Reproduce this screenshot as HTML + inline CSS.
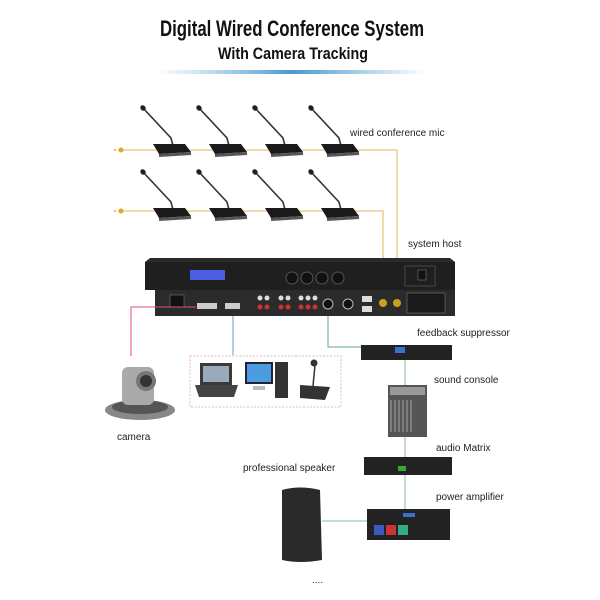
<!DOCTYPE html>
<html><head><meta charset="utf-8"><style>
html,body{margin:0;padding:0;background:#fff}
svg{display:block;font-family:"Liberation Sans",sans-serif}
</style></head><body>
<svg width="600" height="600" viewBox="0 0 600 600" xmlns="http://www.w3.org/2000/svg">
<defs>
<linearGradient id="tl" x1="0" x2="1"><stop offset="0" stop-color="#5aa6d6" stop-opacity="0"/><stop offset="0.5" stop-color="#4a9ad0"/><stop offset="1" stop-color="#5aa6d6" stop-opacity="0"/></linearGradient>
<g id="mic">
<path d="M0 0 L28 30 L30 38" stroke="#333" stroke-width="1.6" fill="none"/>
<ellipse cx="0" cy="0" rx="2.5" ry="3" fill="#222" transform="rotate(-40)"/>
<path d="M10 36 L42 36 L48 44 L16 46 Z" fill="#1a1a1a"/>
<path d="M16 46 L48 44 L48 47 L16 49 Z" fill="#555"/>
</g>
</defs>
<text x="292" y="36" font-size="22" font-weight="bold" text-anchor="middle" fill="#111" textLength="264" lengthAdjust="spacingAndGlyphs">Digital Wired Conference System</text>
<text x="293" y="59" font-size="17" font-weight="bold" text-anchor="middle" fill="#111" textLength="150" lengthAdjust="spacingAndGlyphs">With Camera Tracking</text>
<rect x="158" y="70" width="270" height="4" fill="url(#tl)"/>

<g stroke="#e0b45a" stroke-width="1" fill="none">
<path d="M118 150 H397 V285"/>
<path d="M118 211 H383 V285"/>
</g>
<circle cx="121" cy="150" r="2.5" fill="#e0a830"/><circle cx="115" cy="150" r="1" fill="#e0a830"/>
<circle cx="121" cy="211" r="2.5" fill="#e0a830"/><circle cx="115" cy="211" r="1" fill="#e0a830"/>
<use href="#mic" x="143" y="108"/><use href="#mic" x="199" y="108"/><use href="#mic" x="255" y="108"/><use href="#mic" x="311" y="108"/>
<use href="#mic" x="143" y="172"/><use href="#mic" x="199" y="172"/><use href="#mic" x="255" y="172"/><use href="#mic" x="311" y="172"/>
<text x="350" y="136" font-size="10" fill="#222">wired conference mic</text>
<text x="408" y="247" font-size="10" fill="#222">system host</text>

<path d="M150 258 L450 258 L455 262 V290 H145 V262 Z" fill="#2a2a2a"/>
<rect x="145" y="262" width="310" height="28" fill="#1f1f1f"/>
<rect x="190" y="270" width="35" height="10" fill="#4a5fe0"/>
<g fill="#111" stroke="#666" stroke-width="0.8">
<circle cx="292" cy="278" r="6"/><circle cx="307" cy="278" r="6"/><circle cx="322" cy="278" r="6"/><circle cx="338" cy="278" r="6"/></g>
<rect x="405" y="266" width="30" height="20" fill="none" stroke="#777" stroke-width="0.5"/>
<rect x="418" y="270" width="8" height="10" fill="#111" stroke="#888" stroke-width="0.5"/>
<rect x="155" y="290" width="300" height="26" fill="#2b2b2b"/>
<rect x="170" y="295" width="14" height="12" fill="#111" stroke="#888" stroke-width="0.5"/>
<rect x="197" y="303" width="20" height="6" fill="#ccc"/>
<rect x="225" y="303" width="15" height="6" fill="#ccc"/>
<g fill="#ddd"><circle cx="260" cy="298" r="2.5"/><circle cx="267" cy="298" r="2.5"/><circle cx="281" cy="298" r="2.5"/><circle cx="288" cy="298" r="2.5"/><circle cx="301" cy="298" r="2.5"/><circle cx="308" cy="298" r="2.5"/><circle cx="315" cy="298" r="2.5"/></g>
<g fill="#c33"><circle cx="260" cy="307" r="2.5"/><circle cx="267" cy="307" r="2.5"/><circle cx="281" cy="307" r="2.5"/><circle cx="288" cy="307" r="2.5"/><circle cx="301" cy="307" r="2.5"/><circle cx="308" cy="307" r="2.5"/><circle cx="315" cy="307" r="2.5"/></g>
<circle cx="328" cy="304" r="5" fill="#111" stroke="#bbb"/><circle cx="348" cy="304" r="5" fill="#111" stroke="#bbb"/>
<rect x="362" y="296" width="10" height="6" fill="#ddd"/><rect x="362" y="306" width="10" height="6" fill="#ddd"/>
<circle cx="383" cy="303" r="4" fill="#c8a020"/><circle cx="397" cy="303" r="4" fill="#c8a020"/>
<rect x="407" y="293" width="38" height="20" fill="#1a1a1a" stroke="#888" stroke-width="0.5"/>

<path d="M196 307 H131 V356" stroke="#e05070" fill="none"/>
<path d="M233 316 V355" stroke="#5b9fd0" fill="none"/>
<path d="M328 316 V347 H362" stroke="#5cae7c" fill="none"/>
<path d="M405 360 V385 M405 437 V457 M405 475 V509 M322 521 H367" stroke="#8dbb9c" fill="none"/>

<text x="417" y="336" font-size="10" fill="#222">feedback suppressor</text>
<rect x="361" y="345" width="91" height="15" fill="#222"/><rect x="395" y="347" width="10" height="6" fill="#3a6fd0"/>
<text x="434" y="383" font-size="10" fill="#222">sound console</text>
<rect x="388" y="385" width="39" height="52" fill="#555"/>
<g stroke="#ddd" stroke-width="0.6"><path d="M391 400 V432 M395 400 V432 M399 400 V432 M403 400 V432 M407 400 V432 M411 400 V432"/></g>
<rect x="390" y="387" width="35" height="8" fill="#999"/>
<text x="436" y="451" font-size="10" fill="#222">audio Matrix</text>
<rect x="364" y="457" width="88" height="18" fill="#222"/><rect x="398" y="466" width="8" height="5" fill="#3a3"/>
<text x="243" y="471" font-size="10" fill="#222">professional speaker</text>
<text x="436" y="500" font-size="10" fill="#222">power amplifier</text>
<rect x="367" y="509" width="83" height="31" fill="#222"/>
<rect x="374" y="525" width="10" height="10" fill="#3a5bc0"/><rect x="386" y="525" width="10" height="10" fill="#c33"/><rect x="398" y="525" width="10" height="10" fill="#3a8"/>
<rect x="403" y="513" width="12" height="4" fill="#3a6fd0"/>
<path d="M282 490 Q300 485 320 490 L322 560 Q300 564 282 560 Z" fill="#2a2a2a"/>

<rect x="190" y="356" width="151" height="51" fill="none" stroke="#e4b8c0" stroke-dasharray="2,1.5"/>
<rect x="200" y="363" width="32" height="22" fill="#3a3a3a"/><rect x="203" y="366" width="26" height="16" fill="#9ab"/>
<path d="M195 385 H238 L234 397 H199 Z" fill="#444"/>
<rect x="245" y="362" width="28" height="22" fill="#223"/><rect x="247" y="364" width="24" height="18" fill="#4b9ce0"/>
<rect x="275" y="362" width="13" height="36" fill="#333"/><rect x="253" y="386" width="12" height="4" fill="#bbb"/>
<path d="M300 385 L330 387 L325 400 L300 398 Z" fill="#333"/><path d="M313 386 L315 365" stroke="#333" stroke-width="1.5"/><circle cx="314" cy="363" r="3.5" fill="#333"/>

<ellipse cx="140" cy="410" rx="35" ry="10" fill="#888"/><ellipse cx="140" cy="407" rx="28" ry="7" fill="#555"/>
<rect x="122" y="367" width="32" height="38" rx="6" fill="#aaa"/>
<circle cx="146" cy="381" r="10" fill="#777"/><circle cx="146" cy="381" r="6" fill="#333"/>
<text x="117" y="440" font-size="10" fill="#222">camera</text>
<text x="312" y="583" font-size="10" fill="#222">....</text>
</svg>
</body></html>
